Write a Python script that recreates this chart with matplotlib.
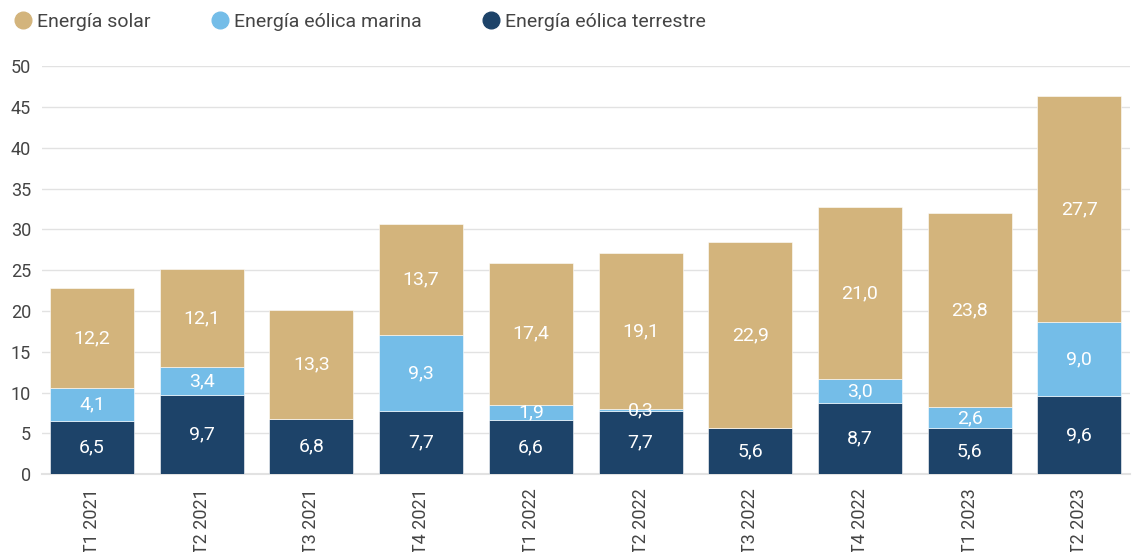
import numpy as np
import matplotlib.pyplot as plt
from matplotlib.lines import Line2D

plt.rcParams['font.family'] = ['Roboto', 'DejaVu Sans']

trimestres = ['T1 2021', 'T2 2021', 'T3 2021', 'T4 2021', 'T1 2022',
              'T2 2022', 'T3 2022', 'T4 2022', 'T1 2023', 'T2 2023']
terrestre = [6.5, 9.7, 6.8, 7.7, 6.6, 7.7, 5.6, 8.7, 5.6, 9.6]
marina = [4.1, 3.4, 0.0, 9.3, 1.9, 0.3, 0.0, 3.0, 2.6, 9.0]
solar = [12.2, 12.1, 13.3, 13.7, 17.4, 19.1, 22.9, 21.0, 23.8, 27.7]

c_terr = '#1D4369'
c_mar = '#74BDE8'
c_sol = '#D3B47C'

fig = plt.figure(figsize=(11.36, 5.52), dpi=100)
ax = fig.add_axes([0.037, 0.141, 0.958, 0.739])

x = np.arange(len(trimestres))
w = 0.766
terr = np.array(terrestre)
mar = np.array(marina)
sol = np.array(solar)

ax.bar(x, terr, w, color=c_terr, edgecolor='white', linewidth=0.4, zorder=3)
ax.bar(x, mar, w, bottom=terr, color=c_mar, edgecolor='white', linewidth=0.4, zorder=3)
ax.bar(x, sol, w, bottom=terr + mar, color=c_sol, edgecolor='white', linewidth=0.4, zorder=3)

def fmt(v):
    return f'{v:.1f}'.replace('.', ',')

# etiquetas blancas en el centro de cada tramo
for i in x:
    ax.text(i, terr[i] / 2, fmt(terr[i]), ha='center', va='center', color='white', fontsize=14, zorder=4)
    if mar[i] > 0:
        ax.text(i, terr[i] + mar[i] / 2, fmt(mar[i]), ha='center', va='center', color='white', fontsize=14, zorder=4)
    ax.text(i, terr[i] + mar[i] + sol[i] / 2, fmt(sol[i]), ha='center', va='center', color='white', fontsize=14, zorder=4)

ax.set_ylim(0, 50)
ax.set_yticks(np.arange(0, 51, 5))
ax.set_xlim(-0.456, 9.465)
ax.set_xticks(x)
ax.set_xticklabels(trimestres, rotation=90)
ax.tick_params(axis='both', length=0, labelsize=13, colors='#444444')
ax.tick_params(axis='x', pad=10)
ax.tick_params(axis='y', pad=8)
ax.grid(axis='y', color='#e2e2e2', linewidth=1, zorder=0)
for s in ['top', 'right', 'left']:
    ax.spines[s].set_visible(False)
ax.spines['bottom'].set_color('#e2e2e2')
ax.spines['bottom'].set_linewidth(1.5)

handles = [Line2D([], [], marker='o', linestyle='', markersize=12, color=c)
           for c in (c_sol, c_mar, c_terr)]
labels = ['Energía solar', 'Energía eólica marina', 'Energía eólica terrestre']
fig.legend(handles, labels, loc='upper left', bbox_to_anchor=(-0.002, 1.009), ncol=3,
           frameon=False, fontsize=14, handlelength=0.8, handletextpad=0.3,
           columnspacing=3.2, labelcolor='#444444')

fig.savefig('out.png', dpi=100)
